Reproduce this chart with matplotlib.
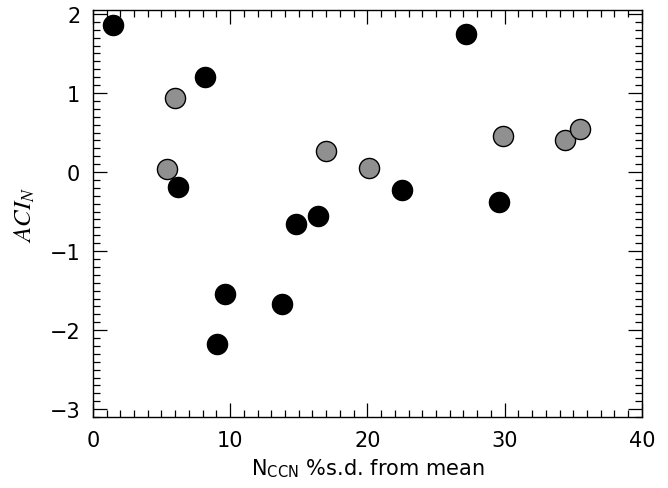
import matplotlib
matplotlib.use("Agg")
import matplotlib.pyplot as plt
from matplotlib.ticker import MultipleLocator

plt.rcParams['mathtext.fontset'] = 'stix'

# black points
black_x = [1.46, 8.18, 6.2, 14.8, 16.4, 22.55, 9.6, 9.05, 13.8, 27.2, 29.6]
black_y = [1.86, 1.2, -0.19, -0.66, -0.56, -0.23, -1.54, -2.18, -1.67, 1.75, -0.38]

# gray points
gray_x = [5.99, 5.4, 17.0, 20.1, 29.9, 34.4, 35.5]
gray_y = [0.94, 0.04, 0.27, 0.05, 0.46, 0.40, 0.54]

fig = plt.figure(figsize=(6.68, 4.89), dpi=100)
ax = fig.add_axes([0.139, 0.145, 0.822, 0.8325])

ax.scatter(black_x, black_y, s=210, c='black', edgecolors='black', linewidths=1, zorder=3)
ax.scatter(gray_x, gray_y, s=210, c='#909090', edgecolors='black', linewidths=1, zorder=3)

ax.set_xlim(0, 40)
ax.set_ylim(-3.1, 2.05)
ax.xaxis.set_major_locator(MultipleLocator(10))
ax.xaxis.set_minor_locator(MultipleLocator(1))
ax.yaxis.set_major_locator(MultipleLocator(1))
ax.yaxis.set_minor_locator(MultipleLocator(0.1))
ax.tick_params(which='both', direction='in', top=True, right=True, width=0.9, labelsize=15, pad=9)
ax.tick_params(which='major', length=10)
ax.tick_params(which='minor', length=5)
for sp in ax.spines.values():
    sp.set_linewidth(1)

ax.set_xlabel(r'N$_{\mathregular{CCN}}$ %s.d. from mean', fontsize=15, labelpad=5)
ax.set_ylabel(r'$ACI_N$', fontsize=18, labelpad=9)

fig.savefig('out.png', dpi=100)
